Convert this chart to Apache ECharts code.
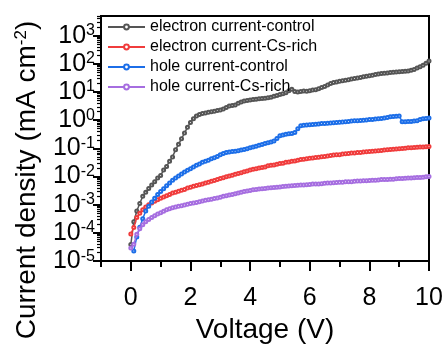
<!DOCTYPE html>
<html><head><meta charset="utf-8">
<script src="https://cdn.jsdelivr.net/npm/echarts@6/dist/echarts.min.js"></script>
<style>html,body{margin:0;padding:0;background:#fff}#c{width:448px;height:349px}</style>
</head><body><div id="c"></div>
<script>
const voltage = [0,0.1,0.2,0.3,0.4,0.5,0.6,0.7,0.8,0.9,1,1.1,1.2,1.3,1.4,1.5,1.6,1.7,1.8,1.9,2,2.1,2.2,2.3,2.4,2.5,2.6,2.7,2.8,2.9,3,3.1,3.2,3.3,3.4,3.5,3.6,3.7,3.8,3.9,4,4.1,4.2,4.3,4.4,4.5,4.6,4.7,4.8,4.9,5,5.1,5.2,5.3,5.4,5.5,5.6,5.7,5.8,5.9,6,6.1,6.2,6.3,6.4,6.5,6.6,6.7,6.8,6.9,7,7.1,7.2,7.3,7.4,7.5,7.6,7.7,7.8,7.9,8,8.1,8.2,8.3,8.4,8.5,8.6,8.7,8.8,8.9,9,9.1,9.2,9.3,9.4,9.5,9.6,9.7,9.8,9.9,10];
const electronControl = [3.9e-5,2.5e-4,6.0e-4,1.1e-3,2.0e-3,2.8e-3,3.8e-3,5.0e-3,6.6e-3,8.9e-3,1.1e-2,1.7e-2,2.3e-2,3.5e-2,5.0e-2,8.9e-2,0.14,0.22,0.35,0.56,0.83,1.12,1.41,1.58,1.74,1.82,1.9,2.0,2.1,2.2,2.3,2.5,2.8,3.2,3.3,3.5,4.0,4.4,4.8,5.0,5.2,5.4,5.6,5.8,5.9,6.0,6.3,6.6,7.1,7.6,8.1,8.7,9.5,11.2,12.6,10.5,10.0,10.5,11,10.7,11.2,11.7,12,13.2,14.5,15.8,17.8,20,21.9,22.9,24,25.1,26.3,27.5,28.8,30.2,31.6,33.1,34.7,36.3,38,39.8,41.7,43.7,45.7,46.8,47.9,49,50.1,51.3,52.5,53.7,55,56.2,58.9,63.1,70.8,79.4,89.1,105,126];
const electronCsRich = [9.1e-5,1.55e-4,3.5e-4,5.0e-4,6.6e-4,8.3e-4,1.0e-3,1.15e-3,1.32e-3,1.5e-3,1.7e-3,1.9e-3,2.1e-3,2.3e-3,2.6e-3,2.8e-3,3.0e-3,3.3e-3,3.5e-3,3.9e-3,4.2e-3,4.5e-3,4.8e-3,5.1e-3,5.5e-3,5.9e-3,6.3e-3,6.8e-3,7.2e-3,7.8e-3,8.5e-3,9.1e-3,9.8e-3,1.05e-2,1.12e-2,1.2e-2,1.29e-2,1.38e-2,1.48e-2,1.58e-2,1.7e-2,1.82e-2,1.9e-2,2.0e-2,2.1e-2,2.2e-2,2.4e-2,2.5e-2,2.6e-2,2.75e-2,2.9e-2,3.0e-2,3.2e-2,3.3e-2,3.5e-2,3.6e-2,3.8e-2,4.0e-2,4.1e-2,4.3e-2,4.5e-2,4.6e-2,4.8e-2,4.9e-2,5.1e-2,5.2e-2,5.4e-2,5.6e-2,5.8e-2,5.9e-2,6.0e-2,6.3e-2,6.5e-2,6.6e-2,6.8e-2,6.9e-2,7.1e-2,7.2e-2,7.4e-2,7.6e-2,7.8e-2,7.9e-2,8.1e-2,8.3e-2,8.5e-2,8.7e-2,8.9e-2,9.1e-2,9.3e-2,9.5e-2,9.8e-2,0.100,0.102,0.105,0.105,0.107,0.11,0.112,0.112,0.115,0.117];
const holeControl = [null,2.3e-5,7.2e-5,1.6e-4,3.2e-4,6.0e-4,8.9e-4,1.26e-3,1.7e-3,2.3e-3,2.95e-3,3.7e-3,4.7e-3,5.9e-3,7.4e-3,8.9e-3,1.05e-2,1.23e-2,1.45e-2,1.66e-2,1.9e-2,2.2e-2,2.5e-2,2.8e-2,3.2e-2,3.5e-2,3.8e-2,4.3e-2,4.7e-2,5.2e-2,5.9e-2,6.6e-2,7.1e-2,7.4e-2,7.8e-2,7.9e-2,8.3e-2,8.7e-2,9.1e-2,9.8e-2,0.105,0.112,0.12,0.129,0.138,0.148,0.158,0.17,0.182,0.224,0.28,0.30,0.316,0.33,0.34,0.37,0.50,0.63,0.66,0.68,0.69,0.71,0.72,0.74,0.76,0.76,0.78,0.79,0.81,0.83,0.85,0.87,0.89,0.91,0.93,0.95,0.95,0.98,1.0,1.02,1.05,1.07,1.1,1.12,1.15,1.2,1.26,1.32,1.35,1.38,1.41,0.89,0.89,0.91,0.91,0.93,0.95,1.05,1.12,1.15,1.2];
const holeCsRich = [2.9e-5,4.0e-5,8.9e-5,1.4e-4,1.95e-4,2.5e-4,3.0e-4,3.5e-4,4.1e-4,4.7e-4,5.2e-4,5.9e-4,6.6e-4,7.2e-4,7.8e-4,8.3e-4,8.9e-4,9.3e-4,9.8e-4,1.05e-3,1.1e-3,1.15e-3,1.2e-3,1.29e-3,1.35e-3,1.45e-3,1.5e-3,1.58e-3,1.66e-3,1.74e-3,1.86e-3,2.0e-3,2.1e-3,2.2e-3,2.3e-3,2.45e-3,2.6e-3,2.75e-3,2.95e-3,3.1e-3,3.2e-3,3.4e-3,3.5e-3,3.6e-3,3.7e-3,3.8e-3,3.9e-3,4.0e-3,4.1e-3,4.2e-3,4.3e-3,4.4e-3,4.5e-3,4.6e-3,4.7e-3,4.8e-3,4.9e-3,5.0e-3,5.0e-3,5.1e-3,5.2e-3,5.4e-3,5.4e-3,5.5e-3,5.6e-3,5.75e-3,5.9e-3,5.9e-3,6.0e-3,6.2e-3,6.3e-3,6.3e-3,6.5e-3,6.6e-3,6.6e-3,6.8e-3,6.9e-3,6.9e-3,7.1e-3,7.1e-3,7.2e-3,7.4e-3,7.4e-3,7.6e-3,7.8e-3,7.8e-3,7.9e-3,8.1e-3,8.1e-3,8.3e-3,8.5e-3,8.5e-3,8.7e-3,8.9e-3,8.9e-3,9.1e-3,9.3e-3,9.3e-3,9.5e-3,9.8e-3,1.0e-2];

const seriesNames = ['electron current-control','electron current-Cs-rich','hole current-control','hole current-Cs-rich'];
const seriesColors = ['#555555','#f03c3c','#1c6ee8','#a66ee0'];
const xLabelTicks = [0,2,4,6,8,10];
const xMinorTicks = [-1,1,3,5,7,9];
const yMajorTicks = [1e-5,1e-4,1e-3,1e-2,1e-1,1,1e1,1e2,1e3];

const yMinorTicks = [];
yMajorTicks.forEach(function(d){ for (let k = 2; k <= 9; k++) { const v = +(k*d).toPrecision(3); if (v <= 5000) yMinorTicks.push(v); } });

const FONT = 'Liberation Sans, Arial, sans-serif';
const allData = [electronControl, electronCsRich, holeControl, holeCsRich];
const series = allData.map(function(arr, i){
  return {
    name: seriesNames[i], type: 'line', xAxisIndex: 0, yAxisIndex: 0,
    data: voltage.map(function(v, j){ return arr[j] == null ? null : [v, arr[j]]; }).filter(function(p){return p;}),
    symbol: 'emptyCircle', symbolSize: 3, showSymbol: true, showAllSymbol: true,
    lineStyle: { color: seriesColors[i], width: 1.5 },
    itemStyle: { color: seriesColors[i], borderWidth: 0.9 },
    emphasis: { disabled: true }, animation: false, z: 2 + i
  };
});

const chart = echarts.init(document.getElementById('c'), null, { renderer: 'canvas' });
chart.setOption({
  animation: false,
  backgroundColor: '#fff',
  grid: { left: 101, right: 19, top: 16, bottom: 70, show: true, borderColor: '#000', borderWidth: 2, backgroundColor: 'transparent' },
  legend: {
    left: 102, top: 14, orient: 'vertical', itemGap: 4, itemWidth: 37, itemHeight: 6,
    textStyle: { fontFamily: FONT, fontSize: 16, color: '#000' },
    data: seriesNames
  },
  xAxis: [{
    type: 'value', min: -1, max: 10, position: 'bottom',
    axisLine: { show: true, onZero: false, lineStyle: { color: '#000', width: 2 } },
    axisTick: { show: true, length: 10, lineStyle: { color: '#000', width: 2 }, customValues: xLabelTicks },
    axisLabel: { customValues: xLabelTicks, fontFamily: FONT, fontSize: 25, color: '#000', margin: 25 },
    splitLine: { show: false },
    name: 'Voltage (V)', nameLocation: 'middle', nameGap: 46,
    nameTextStyle: { fontFamily: FONT, fontSize: 28, color: '#000' }
  }, {
    type: 'value', min: -1, max: 10, position: 'bottom',
    axisLine: { show: false, onZero: false },
    axisTick: { show: true, length: 6, lineStyle: { color: '#000', width: 2 }, customValues: xMinorTicks },
    axisLabel: { show: false }, splitLine: { show: false }
  }],
  yAxis: [{
    type: 'log', logBase: 10, min: 1e-5, max: 5000, position: 'left',
    axisLine: { show: true, onZero: false, lineStyle: { color: '#000', width: 2 } },
    axisTick: { show: true, length: 8, lineStyle: { color: '#000', width: 2 }, customValues: yMajorTicks },
    axisLabel: {
      customValues: yMajorTicks, margin: 6, color: '#000',
      formatter: function(v){ return '{b|10}{s|' + Math.round(Math.log10(v)) + '}'; },
      rich: {
        b: { fontFamily: FONT, fontSize: 25, color: '#000', lineHeight: 26 },
        s: { fontFamily: FONT, fontSize: 16, color: '#000', verticalAlign: 'top', lineHeight: 26, padding: [0,0,10,0] }
      }
    },
    splitLine: { show: false }
  }, {
    type: 'log', logBase: 10, min: 1e-5, max: 5000, position: 'left',
    axisLine: { show: false, onZero: false },
    axisTick: { show: true, length: 4, lineStyle: { color: '#000', width: 1.2 }, customValues: yMinorTicks },
    axisLabel: { show: false }, splitLine: { show: false }
  }],
  graphic: [{
    type: 'text', x: 27, y: 180, rotation: Math.PI / 2,
    style: {
      text: 'Current density (mA cm{s|-2})',
      font: '28px ' + FONT, fill: '#000', textAlign: 'center', textVerticalAlign: 'middle',
      rich: { s: { fontFamily: FONT, fontSize: 17, fill: '#000', verticalAlign: 'top', padding: [0,0,10,0] } }
    }
  }],
  series: series
});
</script></body></html>
